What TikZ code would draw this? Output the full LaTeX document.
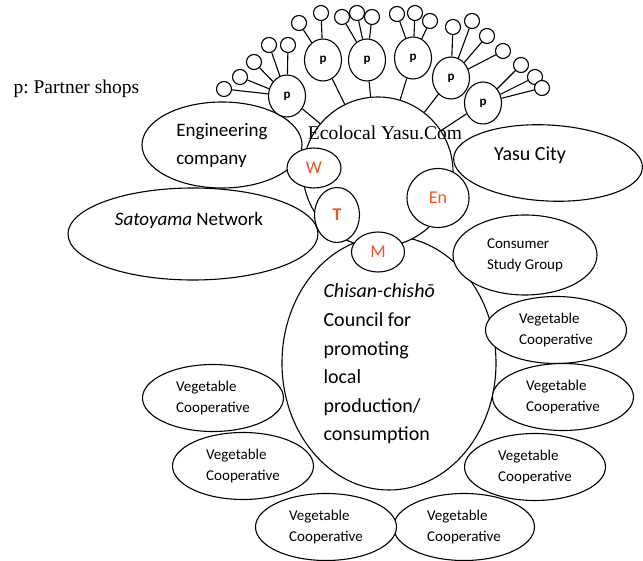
\documentclass[tikz,border=0pt]{standalone}
\usepackage{fontspec}
\setmainfont{Liberation Serif}
\newfontfamily\calibri{Carlito}
\usetikzlibrary{shapes.geometric}
\definecolor{rojizo}{RGB}{240,85,40}
\frenchspacing

\tikzset{
  elipse/.style={draw, ellipse, fill=white, inner sep=0pt},
  coop/.style={elipse, minimum width=141pt, minimum height=67pt, align=left,
    font=\calibri\fontsize{15}{21}\selectfont},
  sigla/.style={elipse, text=rojizo, font=\calibri\fontsize{18}{20}\selectfont},
  tienda/.style={elipse, minimum width=37pt, minimum height=42pt,
    font=\calibri\bfseries\fontsize{13}{14}\selectfont},
  socio/.style={draw, circle, fill=white, minimum size=15pt, inner sep=0pt},
}

\begin{document}
\begin{tikzpicture}[x=1pt, y=-1pt, line width=1.1pt]
    \useasboundingbox (0,0) rectangle (643,561);

    % Consejo
    \node[elipse, minimum width=214pt, minimum height=254pt] (consejo) at (389,363) {};

    % Cooperativas
    \node[coop] (v1) at (556,330) {Vegetable\\Cooperative};
    \node[coop] (v2) at (563,397) {Vegetable\\Cooperative};
    \node[coop] (v3) at (535,467) {Vegetable\\Cooperative};
    \node[coop] (v4) at (464,527) {Vegetable\\Cooperative};
    \node[coop] (v5) at (326,527) {Vegetable\\Cooperative};
    \node[coop] (v6) at (243,466) {Vegetable\\Cooperative};
    \node[coop] (v7) at (213,398) {Vegetable\\Cooperative};

    % Círculo central
    \node[draw, circle, fill=white, minimum size=150pt] (eco) at (378,172) {};

    % Socios
    \node[elipse, minimum width=160pt, minimum height=86pt, align=left,
      font=\calibri\fontsize{19}{28}\selectfont] (ingenieria) at (222,145) {Engineering\\company};
    \node[elipse, minimum width=250pt, minimum height=92pt] (satoyama) at (193,234) {};
    \node[elipse, minimum width=189pt, minimum height=76pt, rotate=-3] (yasu) at (548,163) {};
    \node[elipse, minimum width=144pt, minimum height=80pt, align=left,
      font=\calibri\fontsize{15}{21}\selectfont] (consumidores) at (525,255) {Consumer\\Study Group};

    % Tiendas
    \node[tienda] (p1) at (287,96) {p};
    \node[tienda] (p2) at (323,60) {p};
    \node[tienda] (p3) at (367,60) {p};
    \node[tienda] (p4) at (413,58) {p};
    \node[tienda] (p5) at (451,78) {p};
    \node[tienda] (p6) at (483,103) {p};
    \foreach \t in {p1,p2,p3,p4,p5,p6}
        \draw (eco) -- (\t);

    \foreach \px/\py/\padre [count=\i] in {224/89/p1, 240/77/p1, 254/62/p1, 269/45/p1, 288/45/p1,
        299/23/p2, 321/13/p2, 342/17/p3, 357/13/p3, 372/17/p3,
        397/14/p4, 415/13/p4, 430/21/p4,
        453/27/p5, 472/21/p5, 487/36/p5, 503/51/p5,
        521/65/p6, 535/77/p6, 542/88/p6}
    {
        \node[socio] (s\i) at (\px,\py) {};
        \draw (s\i) -- (\padre);
    }

    % Siglas
    \node[sigla, minimum width=54pt, minimum height=40pt] (w) at (314,168) {W};
    \node[sigla, minimum width=45pt, minimum height=55pt, font=\calibri\bfseries\fontsize{18}{20}\selectfont] (t) at (337,215) {T};
    \node[sigla, minimum width=53pt, minimum height=40pt] (m) at (378,252) {M};
    \node[sigla, minimum width=62pt, minimum height=59pt] (en) at (438,198) {En};

    % Etiquetas
    \node[font=\fontsize{19.5}{22}\selectfont] (ecolocal) at (385,133) {Ecolocal Yasu.Com};
    \node[anchor=west, inner sep=0pt, font=\fontsize{19.5}{22}\selectfont] (leyenda) at (13,89) {p: Partner shops};
    \node[font=\calibri\fontsize{19}{22}\selectfont] (satoyamaTexto) at (189,220) {\textit{Satoyama} Network};
    \node[font=\calibri\fontsize{20}{22}\selectfont] (yasuTexto) at (530,155) {Yasu City};
    \node[anchor=west, inner sep=0pt, align=left, font=\calibri\fontsize{20}{28.6}\selectfont]
        (consejoTexto) at (323,364) {\textit{Chisan-chishō}\\Council for\\promoting\\local\\production/\\consumption};
\end{tikzpicture}
\end{document}
